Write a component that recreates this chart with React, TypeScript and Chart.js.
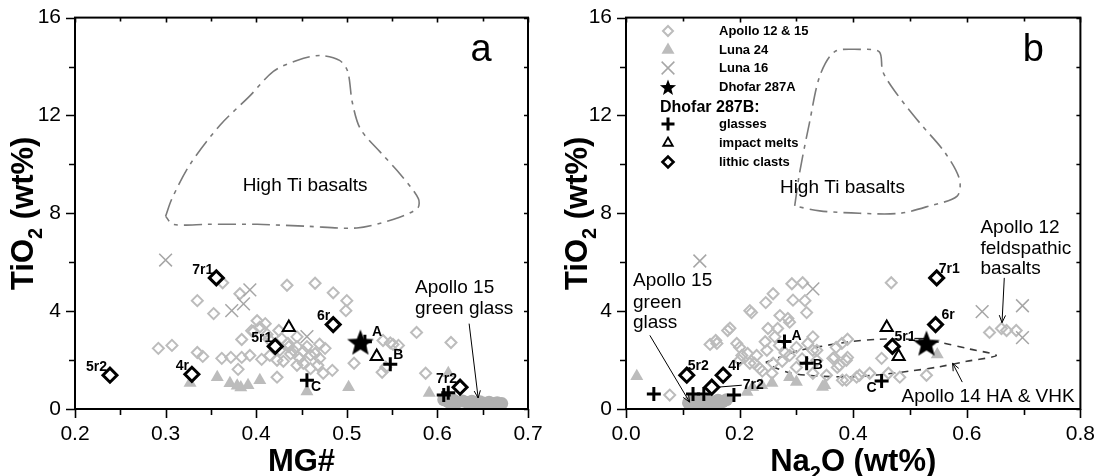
import React, { useEffect, useRef } from 'react';
import { Chart, registerables } from 'chart.js';
import { drawPoint } from 'chart.js/helpers';

Chart.register(...registerables);

const FONT = '"Liberation Sans", Arial, Helvetica, sans-serif';

// ---------------- Panel a : MG# vs TiO2 ----------------
const aApolloX = [0.292, 0.307, 0.335, 0.353, 0.363, 0.382, 0.335, 0.341, 0.362, 0.372, 0.384, 0.393, 0.384, 0.397, 0.401, 0.410, 0.404, 0.380, 0.406, 0.423, 0.434, 0.465, 0.485, 0.500, 0.499, 0.425, 0.428, 0.435, 0.441, 0.448, 0.426, 0.415, 0.423, 0.452, 0.445, 0.465, 0.476, 0.470, 0.468, 0.474, 0.484, 0.508, 0.540, 0.551, 0.557, 0.539, 0.543, 0.577, 0.615, 0.587, 0.436, 0.445, 0.456, 0.460, 0.438, 0.452, 0.430, 0.460, 0.419, 0.412, 0.395, 0.470, 0.414, 0.548, 0.445];
const aApolloY = [2.48, 2.60, 4.43, 3.90, 5.16, 4.71, 2.31, 2.15, 2.07, 2.11, 2.11, 2.19, 2.84, 3.17, 3.61, 3.49, 3.35, 1.62, 2.03, 1.30, 5.06, 5.14, 4.75, 4.43, 4.02, 3.21, 2.88, 2.68, 2.40, 2.07, 2.40, 2.19, 1.99, 1.87, 1.79, 2.27, 2.48, 2.07, 1.79, 1.46, 1.58, 1.87, 2.80, 2.64, 2.60, 1.50, 1.71, 3.13, 2.72, 1.46, 2.55, 2.95, 2.55, 2.20, 2.25, 2.35, 1.95, 1.65, 2.60, 3.05, 3.20, 2.65, 2.85, 2.70, 2.55];
const aLuna24X = [0.327, 0.357, 0.371, 0.379, 0.391, 0.404, 0.383, 0.456, 0.502, 0.591, 0.612];
const aLuna24Y = [1.06, 1.30, 1.05, 0.95, 0.97, 1.18, 0.88, 0.72, 0.89, 0.65, 1.46];
const aLuna16X = [0.300, 0.393, 0.386, 0.373, 0.456];
const aLuna16Y = [6.09, 4.87, 4.30, 4.02, 2.96];
const aGreenX = [0.607, 0.612, 0.618, 0.622, 0.628, 0.633, 0.638, 0.642, 0.647, 0.652, 0.657, 0.661, 0.666, 0.671, 0.615, 0.635, 0.655];
const aGreenY = [0.38, 0.30, 0.36, 0.28, 0.33, 0.27, 0.32, 0.26, 0.30, 0.24, 0.28, 0.22, 0.26, 0.22, 0.22, 0.20, 0.18];
const aGlassX = [0.520, 0.548, 0.456, 0.607, 0.612];
const aGlassY = [2.75, 1.83, 1.18, 0.57, 0.66];
const aGlassNames = ['A', 'B', 'C', '', ''];
const aMeltX = [0.436, 0.533];
const aMeltY = [3.33, 2.15];
const aLithicX = [0.2386, 0.329, 0.356, 0.421, 0.485, 0.625];
const aLithicY = [1.38, 1.42, 5.36, 2.56, 3.45, 0.89];
const aLithicNames = ['5r2', '4r', '7r1', '5r1', '6r', '7r2'];
const aStarX = [0.515];
const aStarY = [2.72];
const aHighTiX = [0.300, 0.307, 0.327, 0.360, 0.393, 0.419, 0.445, 0.470, 0.492, 0.501, 0.506, 0.515, 0.537, 0.559, 0.579, 0.578, 0.551, 0.511, 0.456, 0.401, 0.346, 0.308, 0.300];
const aHighTiY = [7.88, 8.6, 10.0, 11.6, 12.8, 13.8, 14.25, 14.45, 14.25, 13.8, 12.55, 11.45, 10.5, 9.6, 8.6, 8.2, 7.75, 7.4, 7.47, 7.55, 7.55, 7.55, 7.88];
const aXTicks = [0.2, 0.25, 0.3, 0.35, 0.4, 0.45, 0.5, 0.55, 0.6, 0.65, 0.7];
const aXLabels = ['0.2', '', '0.3', '', '0.4', '', '0.5', '', '0.6', '', '0.7'];

// ---------------- Panel b : Na2O vs TiO2 ----------------
const bApolloX = [0.077, 0.148, 0.158, 0.179, 0.218, 0.246, 0.259, 0.292, 0.311, 0.294, 0.315, 0.271, 0.250, 0.285, 0.200, 0.204, 0.230, 0.248, 0.218, 0.235, 0.259, 0.257, 0.288, 0.300, 0.320, 0.329, 0.329, 0.160, 0.221, 0.318, 0.288, 0.267, 0.336, 0.336, 0.364, 0.370, 0.376, 0.388, 0.380, 0.390, 0.388, 0.406, 0.450, 0.467, 0.482, 0.529, 0.329, 0.353, 0.214, 0.200, 0.226, 0.367, 0.390, 0.372, 0.429, 0.381, 0.411, 0.462, 0.640, 0.661, 0.670, 0.687, 0.195, 0.183, 0.270, 0.262, 0.245, 0.280, 0.310, 0.275, 0.300, 0.240];
const bApolloY = [0.57, 2.64, 2.80, 3.21, 4.02, 4.35, 4.71, 5.12, 5.16, 4.45, 4.43, 3.82, 3.29, 3.70, 2.52, 2.19, 2.19, 2.40, 1.87, 1.67, 1.87, 1.46, 2.19, 2.52, 2.68, 2.40, 2.95, 2.68, 3.94, 3.94, 3.55, 3.29, 2.40, 1.99, 2.07, 2.52, 1.79, 1.99, 2.68, 2.85, 1.18, 1.30, 2.07, 5.16, 1.30, 1.38, 1.46, 1.38, 2.27, 1.99, 1.87, 2.11, 2.11, 1.70, 1.46, 1.18, 1.38, 1.46, 3.13, 3.29, 3.21, 3.21, 2.68, 3.30, 2.60, 2.95, 2.75, 2.30, 2.05, 1.95, 1.70, 1.55];
const bLuna24X = [0.019, 0.213, 0.223, 0.239, 0.257, 0.288, 0.300, 0.350, 0.346, 0.548];
const bLuna24Y = [1.34, 0.69, 0.89, 0.97, 1.06, 1.30, 1.10, 0.97, 0.90, 2.23];
const bLuna16X = [0.130, 0.329, 0.627, 0.698, 0.698];
const bLuna16Y = [6.05, 4.91, 3.98, 4.22, 2.92];
const bGreenX = [0.110, 0.118, 0.125, 0.132, 0.140, 0.147, 0.155, 0.162, 0.170, 0.177, 0.120, 0.140, 0.160];
const bGreenY = [0.25, 0.35, 0.22, 0.30, 0.25, 0.33, 0.28, 0.36, 0.30, 0.38, 0.15, 0.15, 0.20];
const bGlassX = [0.279, 0.318, 0.450, 0.049, 0.118, 0.137, 0.190];
const bGlassY = [2.76, 1.87, 1.14, 0.61, 0.61, 0.61, 0.57];
const bGlassNames = ['A', 'B', 'C', '', '', '', ''];
const bMeltX = [0.459, 0.480];
const bMeltY = [3.33, 2.15];
const bLithicX = [0.107, 0.171, 0.151, 0.547, 0.545, 0.469];
const bLithicY = [1.38, 1.38, 0.89, 5.36, 3.45, 2.56];
const bLithicNames = ['5r2', '4r', '7r2', '7r1', '6r', '5r1'];
const bStarX = [0.529];
const bStarY = [2.68];
const bHighTiX = [0.297, 0.306, 0.323, 0.341, 0.367, 0.411, 0.446, 0.452, 0.473, 0.517, 0.561, 0.587, 0.583, 0.534, 0.482, 0.411, 0.341, 0.297];
const bHighTiY = [8.3, 9.7, 11.7, 13.6, 14.6, 14.7, 14.6, 13.8, 13.0, 11.7, 10.5, 9.4, 8.7, 8.3, 8.0, 8.0, 8.1, 8.3];
const bA14X = [0.246, 0.275, 0.306, 0.341, 0.394, 0.446, 0.500, 0.552, 0.605, 0.652, 0.600, 0.550, 0.500, 0.446, 0.400, 0.364, 0.320, 0.288, 0.262, 0.246];
const bA14Y = [1.91, 2.15, 2.40, 2.55, 2.75, 2.85, 2.85, 2.72, 2.45, 2.19, 1.95, 1.72, 1.55, 1.40, 1.32, 1.32, 1.38, 1.48, 1.70, 1.91];
const bXTicks = [0, 0.1, 0.2, 0.3, 0.4, 0.5, 0.6, 0.7, 0.8];
const bXLabels = ['0.0', '', '0.2', '', '0.4', '', '0.6', '', '0.8'];

const yTicks = [0, 2, 4, 6, 8, 10, 12, 14, 16];
const yLabels = ['0', '', '4', '', '8', '', '12', '', '16'];

const legendNames = ['Apollo 12 & 15', 'Luna 24', 'Luna 16', 'Dhofar 287A'];
const legendHeading = 'Dhofar 287B:';
const legendNamesB = ['glasses', 'impact melts', 'lithic clasts'];

// ---------------- styles ----------------
const GREY = '#bcbcbc';
const ST: Record<string, any> = {
  apollo: { pointStyle: 'rectRot', pointRadius: 5.5, pointBorderWidth: 2, pointBorderColor: GREY, pointBackgroundColor: 'rgba(255,255,255,0)' },
  luna24: { pointStyle: 'triangle', pointRadius: 7.5, pointBorderWidth: 0, pointBorderColor: GREY, pointBackgroundColor: GREY },
  luna16: { pointStyle: 'crossRot', pointRadius: 9, pointBorderWidth: 1.5, pointBorderColor: '#a6a6a6', pointBackgroundColor: '#a6a6a6' },
  green: { pointStyle: 'circle', pointRadius: 6.5, pointBorderWidth: 0, pointBorderColor: '#b0b0b0', pointBackgroundColor: '#b0b0b0' },
  glass: { pointStyle: 'cross', pointRadius: 7, pointBorderWidth: 3, pointBorderColor: '#000', pointBackgroundColor: '#000' },
  melt: { pointStyle: 'triangle', pointRadius: 7, pointBorderWidth: 2, pointBorderColor: '#000', pointBackgroundColor: '#fff' },
  lithic: { pointStyle: 'rectRot', pointRadius: 7, pointBorderWidth: 3, pointBorderColor: '#000', pointBackgroundColor: '#fff' },
};

function starCanvas(size: number, outer: number, inner: number) {
  const c = document.createElement('canvas');
  c.width = size; c.height = size;
  const g = c.getContext('2d')!;
  g.fillStyle = '#000';
  g.beginPath();
  for (let i = 0; i < 10; i++) {
    const r = i % 2 === 0 ? outer : inner;
    const a = -Math.PI / 2 + (i * Math.PI) / 5;
    const px = size / 2 + r * Math.cos(a);
    const py = size / 2 + 1 + r * Math.sin(a);
    if (i === 0) g.moveTo(px, py); else g.lineTo(px, py);
  }
  g.closePath();
  g.fill();
  return c;
}

const zip = (xs: number[], ys: number[]) => xs.map((x, i) => ({ x, y: ys[i] }));

function pointSet(label: string, xs: number[], ys: number[], style: any) {
  return { label, data: zip(xs, ys), showLine: false, ...style };
}
function outlineSet(label: string, xs: number[], ys: number[], color: string, dash: number[], tension: number) {
  return {
    label, data: zip(xs, ys), showLine: true, pointRadius: 0, borderColor: color, borderWidth: 1.6,
    borderDash: dash, tension, fill: false,
  };
}

type Txt = { x: number; y: number; text: string; size: number; bold?: boolean; align?: CanvasTextAlign; dx?: number; dy?: number };
type Arrow = { x1: number; y1: number; x2: number; y2: number };

function drawFrameAndTicks(chart: any) {
  const { ctx, chartArea } = chart;
  const { left, right, top, bottom } = chartArea;
  const xs = chart.scales.x, ys = chart.scales.y;
  ctx.save();
  ctx.strokeStyle = '#000';
  ctx.lineWidth = 2;
  ctx.strokeRect(left, top, right - left, bottom - top);
  ctx.lineWidth = 1.6;
  ctx.beginPath();
  xs.ticks.forEach((t: any) => {
    const px = Math.round(xs.getPixelForValue(t.value)) + 0.5;
    const major = t.label !== '';
    ctx.moveTo(px, bottom); ctx.lineTo(px, bottom + (major ? 9 : 6));
    ctx.moveTo(px, top); ctx.lineTo(px, top + (major ? 5 : 4));
  });
  ys.ticks.forEach((t: any) => {
    const py = Math.round(ys.getPixelForValue(t.value)) + 0.5;
    const major = t.label !== '';
    ctx.moveTo(left, py); ctx.lineTo(left - (major ? 9 : 6), py);
    ctx.moveTo(right, py); ctx.lineTo(right - 4, py);
  });
  ctx.stroke();
  ctx.restore();
}

function drawTexts(chart: any, texts: Txt[]) {
  const { ctx } = chart;
  const xs = chart.scales.x, ys = chart.scales.y;
  ctx.save();
  ctx.fillStyle = '#000';
  ctx.textBaseline = 'middle';
  texts.forEach((t) => {
    if (!t.text) return;
    ctx.font = `${t.bold ? 'bold ' : ''}${t.size}px ${FONT}`;
    ctx.textAlign = t.align || 'left';
    ctx.fillText(t.text, xs.getPixelForValue(t.x) + (t.dx || 0), ys.getPixelForValue(t.y) + (t.dy || 0));
  });
  ctx.restore();
}

function drawArrows(chart: any, arrows: Arrow[]) {
  const { ctx } = chart;
  const xs = chart.scales.x, ys = chart.scales.y;
  ctx.save();
  ctx.strokeStyle = '#000';
  ctx.lineWidth = 1;
  arrows.forEach((a) => {
    const x1 = xs.getPixelForValue(a.x1), y1 = ys.getPixelForValue(a.y1);
    const x2 = xs.getPixelForValue(a.x2), y2 = ys.getPixelForValue(a.y2);
    ctx.beginPath(); ctx.moveTo(x1, y1); ctx.lineTo(x2, y2); ctx.stroke();
    const ang = Math.atan2(y2 - y1, x2 - x1);
    const h = 8, w = 0.4;
    ctx.beginPath();
    ctx.moveTo(x2 - h * Math.cos(ang - w), y2 - h * Math.sin(ang - w));
    ctx.lineTo(x2, y2);
    ctx.lineTo(x2 - h * Math.cos(ang + w), y2 - h * Math.sin(ang + w));
    ctx.stroke();
  });
  ctx.restore();
}

function drawSubText(ctx: CanvasRenderingContext2D, parts: [string, boolean][], cx: number, cy: number, size: number, rotate: boolean) {
  ctx.save();
  ctx.translate(cx, cy);
  if (rotate) ctx.rotate(-Math.PI / 2);
  const big = `bold ${size}px ${FONT}`;
  const small = `bold ${Math.round(size * 0.66)}px ${FONT}`;
  let total = 0;
  parts.forEach(([s, sub]) => { ctx.font = sub ? small : big; total += ctx.measureText(s).width; });
  let x = -total / 2;
  ctx.fillStyle = '#000';
  ctx.textBaseline = 'alphabetic';
  ctx.textAlign = 'left';
  parts.forEach(([s, sub]) => {
    ctx.font = sub ? small : big;
    ctx.fillText(s, x, size * 0.36 + (sub ? size * 0.28 : 0));
    x += ctx.measureText(s).width;
  });
  ctx.restore();
}

function makeScales(xMin: number, xMax: number, xTicks: number[], xLabels: string[], yWidth: number) {
  const tickFont = { family: FONT, size: 21 };
  return {
    x: {
      type: 'linear', min: xMin, max: xMax,
      afterBuildTicks: (s: any) => { s.ticks = xTicks.map((v) => ({ value: v })); },
      afterFit: (s: any) => { s.height = 67; },
      ticks: {
        autoSkip: false, maxRotation: 0, minRotation: 0, padding: 4, color: '#000', font: tickFont,
        callback: (_v: any, i: number) => xLabels[i],
      },
      grid: { display: true, drawOnChartArea: false, drawTicks: true, tickLength: 9, color: 'rgba(0,0,0,0)' },
      border: { display: false },
    },
    y: {
      type: 'linear', min: 0, max: 16,
      afterBuildTicks: (s: any) => { s.ticks = yTicks.map((v) => ({ value: v })); },
      afterFit: (s: any) => { s.width = yWidth; },
      ticks: {
        autoSkip: false, padding: 5, color: '#000', font: tickFont,
        callback: (_v: any, i: number) => yLabels[i],
      },
      grid: { display: true, drawOnChartArea: false, drawTicks: true, tickLength: 9, color: 'rgba(0,0,0,0)' },
      border: { display: false },
    },
  };
}

function buildA(canvas: HTMLCanvasElement) {
  const star = starCanvas(32, 14, 6);
  const labels: Txt[] = [
    ...aLithicNames.map((n, i) => ({ x: aLithicX[i], y: aLithicY[i], text: n, size: 14, bold: true, align: 'right' as CanvasTextAlign, dx: -3, dy: -8 })),
    ...aGlassNames.map((n, i) => ({
      x: aGlassX[i], y: aGlassY[i], text: n, size: 14, bold: true, align: 'left' as CanvasTextAlign,
      dx: [7, 3, 4, 0, 0][i], dy: [-10, -9, 7, 0, 0][i],
    })),
  ];
  const notes: Txt[] = [
    { x: 0.454, y: 9.12, text: 'High Ti basalts', size: 19, align: 'center' },
    { x: 0.5753, y: 4.97, text: 'Apollo 15', size: 19 },
    { x: 0.5753, y: 4.11, text: 'green glass', size: 19 },
  ];
  const arrows: Arrow[] = [{ x1: 0.635, y1: 3.49, x2: 0.645, y2: 0.45 }];
  return new Chart(canvas, {
    type: 'scatter',
    data: {
      datasets: [
        pointSet('Dhofar 287A', aStarX, aStarY, { pointStyle: star, pointRadius: 14 }),
        pointSet('lithic clasts', aLithicX, aLithicY, ST.lithic),
        pointSet('impact melts', aMeltX, aMeltY, ST.melt),
        pointSet('glasses', aGlassX, aGlassY, ST.glass),
        pointSet('Luna 16', aLuna16X, aLuna16Y, ST.luna16),
        pointSet('Apollo 12 & 15', aApolloX, aApolloY, ST.apollo),
        pointSet('Luna 24', aLuna24X, aLuna24Y, ST.luna24),
        pointSet('Apollo 15 green glass', aGreenX, aGreenY, ST.green),
        outlineSet('High Ti basalts', aHighTiX, aHighTiY, '#7a7a7a', [18, 6, 4, 6], 0.3),
      ] as any,
    },
    options: {
      responsive: false, animation: false, maintainAspectRatio: false,
      layout: { padding: { left: 0, right: 22, top: 16, bottom: 0 } },
      plugins: { legend: { display: false }, tooltip: { enabled: false } },
      scales: makeScales(0.2, 0.7, aXTicks, aXLabels, 75) as any,
    },
    plugins: [{
      id: 'decoA',
      afterDraw(chart: any) {
        drawFrameAndTicks(chart);
        drawTexts(chart, labels);
        drawTexts(chart, notes);
        drawArrows(chart, arrows);
        const { ctx, chartArea } = chart;
        ctx.save();
        ctx.fillStyle = '#000';
        ctx.font = `38px ${FONT}`;
        ctx.textAlign = 'center'; ctx.textBaseline = 'middle';
        ctx.fillText('a', chartArea.right - 47, chartArea.top + 33);
        ctx.restore();
        drawSubText(ctx, [['TiO', false], ['2', true], [' (wt%)', false]], 22, (chartArea.top + chartArea.bottom) / 2, 31, true);
        drawSubText(ctx, [['MG#', false]], (chartArea.left + chartArea.right) / 2, 460, 31, false);
      },
    }],
  });
}

function buildB(canvas: HTMLCanvasElement) {
  const star = starCanvas(32, 14, 6);
  const legendStar = starCanvas(20, 8.5, 3.6);
  const labels: Txt[] = [
    ...bLithicNames.map((n, i) => ({
      x: bLithicX[i], y: bLithicY[i], text: n, size: 14, bold: true, align: 'left' as CanvasTextAlign,
      dx: [1, 5, 31, 2, 6, 2][i], dy: [-9, -9, -2, -9, -9, -9][i],
    })),
    ...bGlassNames.map((n, i) => ({
      x: bGlassX[i], y: bGlassY[i], text: n, size: 14, bold: true,
      align: (i === 2 ? 'right' : 'left') as CanvasTextAlign,
      dx: [7, 6, -5, 0, 0, 0, 0][i], dy: [-5, 2, 7, 0, 0, 0, 0][i],
    })),
  ];
  const notes: Txt[] = [
    { x: 0.381, y: 9.04, text: 'High Ti basalts', size: 19, align: 'center' },
    { x: 0.0123, y: 5.25, text: 'Apollo 15', size: 19 },
    { x: 0.0123, y: 4.36, text: 'green', size: 19 },
    { x: 0.0123, y: 3.54, text: 'glass', size: 19 },
    { x: 0.624, y: 7.39, text: 'Apollo 12', size: 19 },
    { x: 0.624, y: 6.56, text: 'feldspathic', size: 19 },
    { x: 0.624, y: 5.73, text: 'basalts', size: 19 },
    { x: 0.485, y: 0.49, text: 'Apollo 14 HA & VHK', size: 19 },
  ];
  const arrows: Arrow[] = [
    { x1: 0.042, y1: 3.01, x2: 0.112, y2: 0.28 },
    { x1: 0.666, y1: 5.36, x2: 0.662, y2: 3.53 },
    { x1: 0.592, y1: 1.10, x2: 0.575, y2: 1.87 },
  ];
  const legendTop = [
    { style: { pointStyle: 'rectRot', radius: 5, borderWidth: 2, stroke: GREY, fill: 'rgba(0,0,0,0)' } },
    { style: { pointStyle: 'triangle', radius: 7.5, borderWidth: 0, stroke: GREY, fill: GREY } },
    { style: { pointStyle: 'crossRot', radius: 9, borderWidth: 1.5, stroke: '#a6a6a6', fill: '#a6a6a6' } },
    { style: { pointStyle: legendStar, radius: 8, borderWidth: 0, stroke: '#000', fill: '#000' } },
  ];
  const legendBottom = [
    { style: { pointStyle: 'cross', radius: 6.5, borderWidth: 3, stroke: '#000', fill: '#000' } },
    { style: { pointStyle: 'triangle', radius: 5.5, borderWidth: 1.8, stroke: '#000', fill: '#fff' } },
    { style: { pointStyle: 'rectRot', radius: 5.5, borderWidth: 2.6, stroke: '#000', fill: '#fff' } },
  ];
  return new Chart(canvas, {
    type: 'scatter',
    data: {
      datasets: [
        pointSet('Dhofar 287A', bStarX, bStarY, { pointStyle: star, pointRadius: 14 }),
        pointSet('lithic clasts', bLithicX, bLithicY, ST.lithic),
        pointSet('impact melts', bMeltX, bMeltY, ST.melt),
        pointSet('glasses', bGlassX, bGlassY, ST.glass),
        pointSet('Luna 16', bLuna16X, bLuna16Y, ST.luna16),
        pointSet('Apollo 12 & 15', bApolloX, bApolloY, ST.apollo),
        pointSet('Luna 24', bLuna24X, bLuna24Y, ST.luna24),
        pointSet('Apollo 15 green glass', bGreenX, bGreenY, ST.green),
        outlineSet('Apollo 14 HA & VHK', bA14X, bA14Y, '#3a3a3a', [7, 6], 0.3),
        outlineSet('High Ti basalts', bHighTiX, bHighTiY, '#7a7a7a', [18, 6, 4, 6], 0.3),
      ] as any,
    },
    options: {
      responsive: false, animation: false, maintainAspectRatio: false,
      layout: { padding: { left: 0, right: 18, top: 16, bottom: 0 } },
      plugins: { legend: { display: false }, tooltip: { enabled: false } },
      scales: makeScales(0, 0.8, bXTicks, bXLabels, 77) as any,
    },
    plugins: [{
      id: 'decoB',
      afterDraw(chart: any) {
        drawFrameAndTicks(chart);
        drawTexts(chart, labels);
        drawTexts(chart, notes);
        drawArrows(chart, arrows);
        const { ctx, chartArea } = chart;
        const xs = chart.scales.x, ys = chart.scales.y;
        // leader lines for 7r2 and 5r1
        ctx.save();
        ctx.strokeStyle = '#000'; ctx.lineWidth = 1;
        ctx.beginPath();
        const p7 = { x: xs.getPixelForValue(bLithicX[2]), y: ys.getPixelForValue(bLithicY[2]) };
        ctx.moveTo(p7.x + 5, p7.y); ctx.lineTo(p7.x + 30, p7.y - 2);
        const p5 = { x: xs.getPixelForValue(bLithicX[5]), y: ys.getPixelForValue(bLithicY[5]) };
        ctx.moveTo(p5.x + 22, p5.y - 8); ctx.lineTo(p5.x + 32, p5.y - 8);
        ctx.stroke();
        ctx.restore();
        // legend
        ctx.save();
        const mx = chartArea.left + 42, tx = chartArea.left + 93;
        const rowsTop = [31, 50, 68, 87];
        const rowsBottom = [124, 143, 162];
        const drawRow = (item: any, name: string, y: number) => {
          ctx.fillStyle = item.style.fill; ctx.strokeStyle = item.style.stroke; ctx.lineWidth = item.style.borderWidth;
          drawPoint(ctx, { pointStyle: item.style.pointStyle, radius: item.style.radius, borderWidth: item.style.borderWidth, rotation: 0 } as any, mx, y);
          ctx.fillStyle = '#000';
          ctx.font = `bold 13px ${FONT}`; ctx.textAlign = 'left'; ctx.textBaseline = 'middle';
          ctx.fillText(name, tx, y);
        };
        legendTop.forEach((it, i) => drawRow(it, legendNames[i], rowsTop[i]));
        legendBottom.forEach((it, i) => drawRow(it, legendNamesB[i], rowsBottom[i]));
        ctx.fillStyle = '#000';
        ctx.font = `bold 16px ${FONT}`; ctx.textAlign = 'left'; ctx.textBaseline = 'middle';
        ctx.fillText(legendHeading, chartArea.left + 34, 108);
        ctx.font = `38px ${FONT}`;
        ctx.textAlign = 'center';
        ctx.fillText('b', chartArea.right - 47, chartArea.top + 33);
        ctx.restore();
        drawSubText(ctx, [['TiO', false], ['2', true], [' (wt%)', false]], 27, (chartArea.top + chartArea.bottom) / 2, 31, true);
        drawSubText(ctx, [['Na', false], ['2', true], ['O (wt%)', false]], (chartArea.left + chartArea.right) / 2, 460, 31, false);
      },
    }],
  });
}

export default function App() {
  const refA = useRef<HTMLCanvasElement>(null);
  const refB = useRef<HTMLCanvasElement>(null);
  useEffect(() => {
    const ca = buildA(refA.current!);
    const cb = buildB(refB.current!);
    return () => { ca.destroy(); cb.destroy(); };
  }, []);
  return (
    <div style={{ position: 'fixed', left: 0, top: 0, width: 1099, height: 476, background: '#fff' }}>
      <canvas ref={refA} width={550} height={476} style={{ position: 'absolute', left: 0, top: 0 }} />
      <canvas ref={refB} width={550} height={476} style={{ position: 'absolute', left: 549, top: 0 }} />
    </div>
  );
}
